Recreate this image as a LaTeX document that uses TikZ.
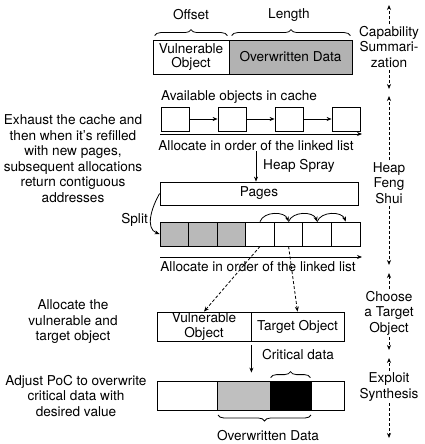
\documentclass[tikz,border=0pt]{standalone}
\usepackage{fontspec}
\setmainfont{TeX Gyre Heros}
\usetikzlibrary{arrows.meta,decorations.pathreplacing}

\begin{document}
\begin{tikzpicture}[x=1pt,y=1pt,
	every node/.style={font=\fontsize{13.6}{15.5}\selectfont},
	cell/.style={draw, line width=0.8pt, inner sep=0pt},
	arr/.style={-{Stealth[length=5pt,width=4pt]}, line width=0.8pt},
	dasharr/.style={arr, dash pattern=on 3pt off 2pt},
	curly/.style={decorate, decoration={brace, amplitude=6pt}, line width=0.8pt},
	stage/.style={align=center, inner sep=2pt},
	note/.style={align=center, inner sep=0pt}]
	\useasboundingbox (0,0) rectangle (425,-444);

	% capability summarization
	\node[cell, minimum width=76pt, minimum height=34pt, align=center, font=\fontsize{13.6}{14}\selectfont] (vuln) at (191,-57) {Vulnerable\\Object};
	\node[cell, minimum width=123pt, minimum height=34pt, fill=gray!60] (over) at (290.5,-57) {Overwritten Data};
	\draw[curly] ([xshift=2pt,yshift=4pt]vuln.north west) -- ([xshift=-2pt,yshift=4pt]vuln.north east);
	\draw[curly] ([xshift=3pt,yshift=4pt]over.north west) -- ([xshift=-2pt,yshift=4pt]over.north east);
	\node[inner sep=0pt] (offset) at (191,-15) {Offset};
	\node[inner sep=0pt] (length) at (289,-15) {Length};

	% heap feng shui
	\node[inner sep=0pt, anchor=west] (avail) at (161,-97) {Available objects in cache};
	\foreach \i/\x in {1/175,2/232,3/289,4/346}
		\node[cell, minimum width=28pt, minimum height=24pt] (b\i) at (\x,-119) {};
	\foreach \i/\j in {1/2,2/3,3/4}
		\draw[arr] (b\i) -- (b\j);
	\coordinate (a1s) at (160,-134);
	\coordinate (a1e) at (362,-134);
	\draw[arr] (a1s) -- (a1e);
	\node[inner sep=0pt] (alloc1) at (256,-146) {Allocate in order of the linked list};

	\node[cell, minimum width=198pt, minimum height=23pt] (pages) at (259,-193.5) {Pages};
	\draw[arr] (alloc1.south) -- (alloc1.south |- pages.north);
	\node[inner sep=0pt, anchor=west] (spray) at (263,-166) {Heap Spray};

	\foreach \i in {1,2,3}
		\node[cell, minimum width=28.57pt, minimum height=24pt, fill=gray!55] (c\i) at ({160+28.57*(\i-0.5)},-234) {};
	\foreach \i in {4,...,7}
		\node[cell, minimum width=28.57pt, minimum height=24pt] (c\i) at ({160+28.57*(\i-0.5)},-234) {};
	\foreach \i/\j in {4/5,5/6,6/7}
		\draw[arr] (c\i.north) to [out=70,in=110] (c\j.north);
	\draw[arr] (pages.west) to [out=240,in=160] (c1.west);
	\node[inner sep=0pt, anchor=east] (split) at (148,-220) {Split};

	\coordinate (a2s) at (160,-257);
	\coordinate (a2e) at (362,-257);
	\draw[arr] (a2s) -- (a2e);
	\node[inner sep=0pt] (alloc2) at (258,-267) {Allocate in order of the linked list};

	% choose a target object
	\node[cell, minimum width=94pt, minimum height=29pt, align=center, font=\fontsize{13.6}{14.5}\selectfont] (vuln2) at (204,-326.5) {Vulnerable\\Object};
	\node[cell, minimum width=93pt, minimum height=29pt] (tgt) at (297.5,-326.5) {Target Object};
	\draw[dasharr] (c4.south) -- (vuln2.north);
	\draw[dasharr] (c5.south) -- (tgt.north);

	% exploit synthesis
	\node[cell, minimum width=60pt, minimum height=29pt] (d1) at (187,-395.5) {};
	\node[cell, minimum width=53pt, minimum height=29pt, fill=gray!50] (d2) at (243.5,-395.5) {};
	\node[cell, minimum width=41pt, minimum height=29pt, fill=black] (d3) at (290.5,-395.5) {};
	\node[cell, minimum width=33pt, minimum height=29pt] (d4) at (327.5,-395.5) {};
	\draw[arr, shorten <=4pt, shorten >=8pt] (vuln2.south east) -- (vuln2.south east |- d1.north);
	\draw[curly] ([xshift=1pt,yshift=3pt]d3.north west) -- ([xshift=-1pt,yshift=3pt]d3.north east);
	\node[inner sep=0pt] (crit) at (298,-355) {Critical data};
	\coordinate (ob1) at (218,-415);
	\coordinate (ob2) at (311,-415);
	\draw[curly] (ob2) -- (ob1);
	\node[inner sep=0pt] (owd) at (268,-436) {Overwritten Data};

	% notes on the left
	\node[note] (n1) at (73,-158.5) {Exhaust the cache and\\then when it’s refilled\\with new pages,\\subsequent allocations\\return contiguous\\addresses};
	\node[note] (n2) at (73,-322) {Allocate the\\vulnerable and\\target object};
	\node[note] (n3) at (76,-396) {Adjust PoC to overwrite\\critical data with\\desired value};

	% stages
	\node[stage] (cap) at (389,-47) {Capability\\Summari-\\zation};
	\node[stage] (heap) at (389,-183) {Heap\\Feng\\Shui};
	\node[stage] (choose) at (389,-313) {Choose\\a Target\\Object};
	\node[stage] (expl) at (389,-387) {Exploit\\Synthesis};
	\coordinate (s0) at (389,-5);
	\coordinate (s1) at (389,-89);
	\coordinate (s2) at (389,-96);
	\coordinate (s3) at (389,-265);
	\coordinate (s4) at (389,-273);
	\coordinate (s5) at (389,-350);
	\coordinate (s6) at (389,-358);
	\coordinate (s7) at (389,-438);
	\draw[dasharr] (cap) -- (s0);
	\draw[dasharr] (cap) -- (s1);
	\draw[dasharr] (heap) -- (s2);
	\draw[dasharr] (heap) -- (s3);
	\draw[dasharr] (choose) -- (s4);
	\draw[dasharr] (choose) -- (s5);
	\draw[dasharr] (expl) -- (s6);
	\draw[dasharr] (expl) -- (s7);
\end{tikzpicture}
\end{document}
